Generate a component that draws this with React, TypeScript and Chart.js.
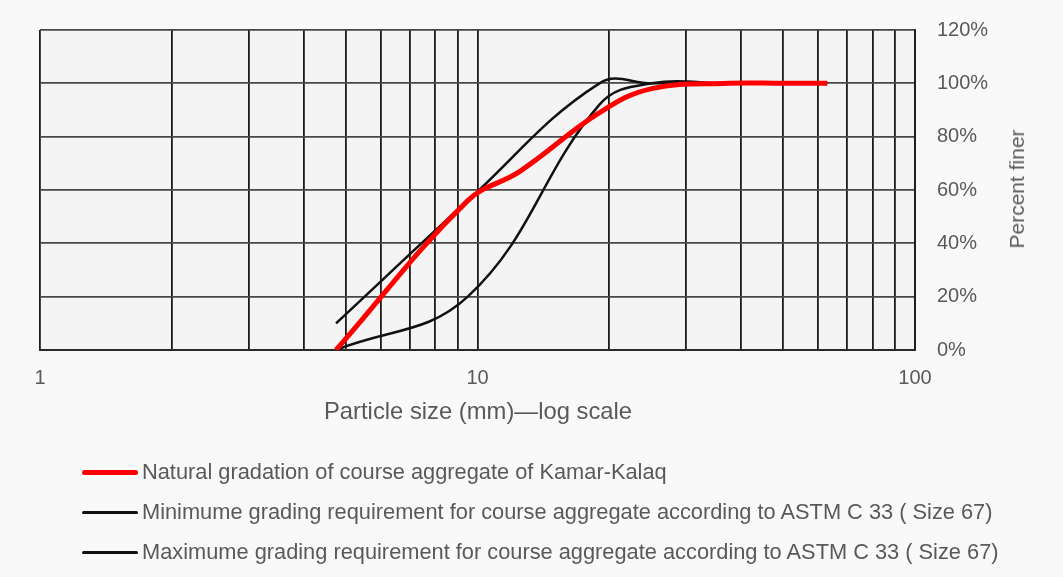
import { useEffect, useRef } from 'react';
import { Chart, registerables } from 'chart.js';

Chart.register(...registerables);

// ---- data (particle size in mm, percent finer) ----
const naturalSizes = [4.75, 9.5, 12.5, 19, 25, 37.5, 50, 63];
const naturalPassing = [0, 56, 67, 89, 98, 100, 100, 100];

const minSizes = [4.75, 9.5, 19, 25, 37.5, 50, 63];
const minPassing = [0, 20, 92, 100, 100, 100, 100];

const maxSizes = [4.75, 9.5, 19, 25, 37.5, 50, 63];
const maxPassing = [10, 56, 100, 100, 100, 100, 100];

const xGridValues = [1, 2, 3, 4, 5, 6, 7, 8, 9, 10, 20, 30, 40, 50, 60, 70, 80, 90, 100];
const xLabelValues = [1, 10, 100];
const yTickValues = [0, 20, 40, 60, 80, 100, 120];

const seriesNames = [
  'Natural gradation of course aggregate of Kamar-Kalaq',
  'Minimume grading requirement for course aggregate according to ASTM C 33 ( Size 67)',
  'Maximume grading requirement for course aggregate according to ASTM C 33 ( Size 67)',
];
const xTitle = 'Particle size (mm)\u2014log scale';
const yTitle = 'Percent finer';

const FONT = "'Liberation Sans', Arial, sans-serif";
const TEXT = '#595959';

const toPoints = (xs: number[], ys: number[]) => xs.map((x, i) => ({ x, y: ys[i] }));

const plotBg = {
  id: 'plotBg',
  beforeDraw(chart: any) {
    const { ctx, chartArea } = chart;
    ctx.save();
    ctx.fillStyle = '#f4f4f4';
    ctx.fillRect(chartArea.left, chartArea.top, chartArea.right - chartArea.left, chartArea.bottom - chartArea.top);
    ctx.restore();
  },
};

export default function App() {
  const ref = useRef<HTMLCanvasElement | null>(null);

  useEffect(() => {
    if (!ref.current) return;
    const chart = new Chart(ref.current, {
      type: 'scatter',
      data: {
        datasets: [
          {
            label: seriesNames[0],
            data: toPoints(naturalSizes, naturalPassing),
            showLine: true,
            borderColor: '#ff0000',
            borderWidth: 5,
            pointRadius: 0,
            tension: 0.4,
          },
          {
            label: seriesNames[1],
            data: toPoints(minSizes, minPassing),
            showLine: true,
            borderColor: '#111111',
            borderWidth: 2.5,
            pointRadius: 0,
            tension: 0.4,
          },
          {
            label: seriesNames[2],
            data: toPoints(maxSizes, maxPassing),
            showLine: true,
            borderColor: '#111111',
            borderWidth: 2.5,
            pointRadius: 0,
            tension: 0.4,
          },
        ],
      },
      options: {
        responsive: false,
        animation: false,
        layout: { padding: { left: 40, top: 30, right: 0, bottom: 147 } },
        plugins: {
          legend: { display: false },
          tooltip: { enabled: false },
        },
        scales: {
          x: {
            type: 'logarithmic',
            min: 1,
            max: 100,
            afterBuildTicks: (s: any) => {
              s.ticks = xGridValues.map((v) => ({ value: v }));
            },
            afterFit: (s: any) => {
              s.height = 80;
              s.paddingLeft = 0;
              s.paddingRight = 0;
            },
            ticks: {
              autoSkip: false,
              maxRotation: 0,
              padding: 16,
              color: TEXT,
              font: { family: FONT, size: 20 },
              callback: (v: any) => (xLabelValues.includes(Number(v)) ? String(v) : ''),
            },
            grid: { color: '#1a1a1a', lineWidth: 1.8, drawTicks: false },
            border: { color: '#2a2a2a', width: 2 },
          },
          y: {
            position: 'right',
            min: 0,
            max: 120,
            afterBuildTicks: (s: any) => {
              s.ticks = yTickValues.map((v) => ({ value: v }));
            },
            afterFit: (s: any) => {
              s.width = 148;
              s.paddingTop = 0;
              s.paddingBottom = 0;
            },
            ticks: {
              padding: 22,
              color: TEXT,
              font: { family: FONT, size: 20 },
              callback: (v: any) => `${v}%`,
            },
            grid: { color: '#484848', lineWidth: 1.8, drawTicks: false },
            border: { color: '#1a1a1a', width: 1.8 },
          },
        },
      },
      plugins: [plotBg],
    });
    return () => chart.destroy();
  }, []);

  const legendRows = [
    { name: seriesNames[0], color: '#ff0000', width: 5, y: 472 },
    { name: seriesNames[1], color: '#111111', width: 3, y: 512 },
    { name: seriesNames[2], color: '#111111', width: 3, y: 552 },
  ];

  return (
    <div
      style={{
        position: 'fixed',
        left: 0,
        top: 0,
        width: 1063,
        height: 577,
        background: '#f9f9f9',
        fontFamily: FONT,
        color: TEXT,
        overflow: 'hidden',
      }}
    >
      <canvas ref={ref} width={1063} height={577} style={{ position: 'absolute', left: 0, top: 0 }} />
      <div
        style={{
          position: 'absolute',
          left: 478,
          top: 411,
          transform: 'translate(-50%, -50%)',
          fontSize: 23.8,
          whiteSpace: 'nowrap',
        }}
      >
        {xTitle}
      </div>
      <div
        style={{
          position: 'absolute',
          left: 1017,
          top: 189,
          transform: 'translate(-50%, -50%) rotate(-90deg)',
          fontSize: 21,
          whiteSpace: 'nowrap',
        }}
      >
        {yTitle}
      </div>
      {legendRows.map((r) => (
        <div key={r.name}>
          <div
            style={{
              position: 'absolute',
              left: 82,
              top: r.y - r.width / 2,
              width: 56,
              height: r.width,
              background: r.color,
              borderRadius: r.width / 2,
            }}
          />
          <div
            style={{
              position: 'absolute',
              left: 142,
              top: r.y,
              transform: 'translateY(-50%)',
              fontSize: 21.8,
              whiteSpace: 'nowrap',
            }}
          >
            {r.name}
          </div>
        </div>
      ))}
    </div>
  );
}
